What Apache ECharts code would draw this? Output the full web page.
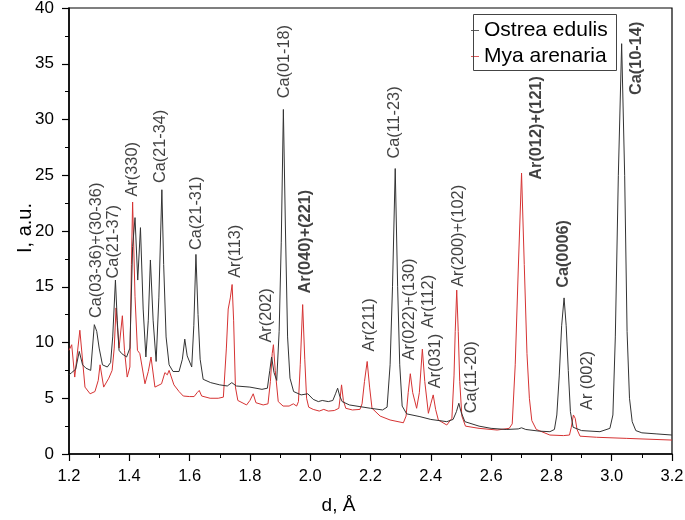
<!DOCTYPE html>
<html>
<head>
<meta charset="utf-8">
<script src="https://cdn.jsdelivr.net/npm/echarts@6/dist/echarts.min.js"></script>
<style>html,body{margin:0;padding:0;background:#fff}#c{width:685px;height:520px}</style>
</head>
<body>
<div id="c"></div>
<script>
// Ostrea edulis (black) : d (Å), intensity (a.u.)
const ostreaD = [1.200,1.209,1.222,1.234,1.245,1.256,1.272,1.284,1.292,1.300,1.311,1.327,1.338,1.345,1.354,1.360,1.366,1.375,1.391,1.402,1.411,1.419,1.428,1.437,1.446,1.455,1.463,1.470,1.479,1.489,1.498,1.508,1.514,1.522,1.532,1.545,1.565,1.576,1.584,1.592,1.607,1.614,1.621,1.628,1.635,1.645,1.670,1.700,1.725,1.740,1.755,1.800,1.840,1.858,1.866,1.872,1.880,1.889,1.897,1.904,1.911,1.918,1.925,1.933,1.945,1.970,1.992,2.010,2.027,2.040,2.060,2.075,2.084,2.091,2.098,2.106,2.130,2.165,2.200,2.240,2.255,2.265,2.273,2.282,2.290,2.297,2.305,2.320,2.364,2.400,2.453,2.474,2.485,2.493,2.500,2.513,2.560,2.600,2.650,2.690,2.701,2.715,2.760,2.795,2.810,2.818,2.826,2.834,2.842,2.849,2.856,2.863,2.872,2.900,2.961,2.994,3.004,3.012,3.022,3.033,3.043,3.051,3.059,3.068,3.080,3.100,3.150,3.200];
const ostreaI = [7.1,7.3,7.6,9.2,8.0,7.7,7.5,11.6,11.0,9.5,8.0,7.8,8.2,10.5,15.6,12.0,9.3,9.0,8.7,9.5,18.6,21.2,15.6,20.3,13.0,8.7,12.0,17.4,12.0,8.3,14.0,23.7,17.0,10.5,8.0,7.4,7.4,8.5,10.3,8.8,7.8,11.5,17.9,12.5,8.5,6.7,6.4,6.2,6.1,6.4,6.1,6.0,5.8,5.9,7.5,8.7,7.3,6.6,11.0,19.0,30.9,20.0,10.5,6.8,5.6,5.3,5.4,4.9,4.7,4.8,4.7,4.8,5.4,5.9,5.2,4.7,4.4,4.25,4.1,3.95,4.2,8.0,15.0,25.6,15.0,8.0,4.3,3.6,3.35,3.1,2.9,3.1,3.8,4.55,3.8,2.9,2.5,2.3,2.2,2.25,2.35,2.2,2.05,2.0,2.2,3.5,7.0,11.5,14.0,11.5,7.5,3.8,2.4,2.1,2.0,2.3,3.5,10.5,25.0,36.8,25.0,11.0,5.0,2.9,2.1,1.9,1.8,1.7];

// Mya arenaria (red)
const myaD = [1.200,1.209,1.219,1.236,1.247,1.253,1.270,1.286,1.297,1.303,1.315,1.332,1.343,1.350,1.356,1.366,1.377,1.384,1.393,1.402,1.407,1.411,1.419,1.427,1.435,1.452,1.463,1.472,1.485,1.507,1.518,1.526,1.532,1.548,1.565,1.579,1.600,1.615,1.625,1.632,1.640,1.668,1.695,1.712,1.722,1.728,1.735,1.741,1.746,1.752,1.760,1.789,1.800,1.811,1.820,1.844,1.860,1.868,1.874,1.878,1.884,1.894,1.910,1.930,1.944,1.955,1.961,1.967,1.975,1.982,1.988,1.995,2.010,2.030,2.045,2.060,2.080,2.095,2.100,2.104,2.110,2.118,2.140,2.165,2.172,2.180,2.189,2.197,2.205,2.232,2.265,2.309,2.318,2.325,2.332,2.340,2.353,2.362,2.372,2.380,2.392,2.400,2.408,2.416,2.425,2.453,2.470,2.477,2.481,2.486,2.491,2.496,2.503,2.515,2.560,2.620,2.660,2.670,2.680,2.690,2.701,2.710,2.719,2.727,2.735,2.750,2.795,2.840,2.860,2.866,2.873,2.879,2.885,2.895,2.950,3.050,3.200];
const myaI = [9.3,9.8,6.9,11.1,7.8,6.0,5.4,5.6,6.6,8.0,6.0,6.8,7.5,9.5,13.1,9.5,12.4,9.3,6.9,7.8,17.0,22.6,14.1,9.3,9.0,6.3,7.4,8.7,6.0,6.3,7.3,7.1,7.5,6.2,5.6,5.2,5.15,5.15,5.5,5.7,5.2,5.0,5.0,5.1,9.5,13.0,14.0,15.2,12.0,6.0,4.8,4.4,4.8,5.4,4.6,4.4,4.5,6.5,9.0,9.8,7.5,4.7,4.3,4.3,4.5,4.3,4.7,8.0,13.4,8.5,5.0,4.2,4.0,3.85,4.0,3.85,3.9,4.1,5.2,6.2,4.8,4.1,3.95,4.0,4.5,6.5,8.3,6.0,4.1,3.4,3.05,2.8,3.4,5.5,7.2,5.5,4.1,5.5,9.4,6.5,3.65,4.5,5.3,4.0,3.05,2.6,3.2,7.0,11.0,14.7,11.0,6.5,3.4,2.5,2.3,2.15,2.3,2.7,8.0,16.5,25.2,17.0,9.0,5.0,3.0,2.2,1.7,1.65,1.7,2.4,3.5,3.2,2.2,1.6,1.5,1.4,1.25];

// Peak annotations: text, anchor d, anchor I (text starts here and reads upward), bold
const labelTexts = ['Ca(03-36)+(30-36)','Ca(21-37)','Ar(330)','Ca(21-34)','Ca(21-31)','Ar(113)','Ar(202)','Ca(01-18)','Ar(040)+(221)','Ar(211)','Ca(11-23)','Ar(022)+(130)','Ar(112)','Ar(031)','Ar(200)+(102)','Ca(11-20)','Ar(012)+(121)','Ca(0006)','Ar (002)','Ca(10-14)'];
const labelD = [1.290,1.349,1.411,1.502,1.624,1.751,1.856,1.916,1.983,2.196,2.281,2.329,2.392,2.414,2.491,2.536,2.751,2.840,2.919,3.083];
const labelI = [12.2,15.75,23.1,24.3,18.3,15.8,10.0,31.9,14.4,9.2,26.5,8.4,11.3,5.9,15.0,3.65,24.6,14.9,3.95,32.2];
const labelBold = [0,0,0,0,0,0,0,0,1,0,0,0,0,0,0,0,1,1,0,1];

const seriesNames = ['Ostrea edulis','Mya arenaria'];
const xTicks = {min:1.2, max:3.2, step:0.2};
const yTicks = {min:0, max:40, step:5};
const yTitle = 'I, a.u.';

const FONT = '"Liberation Sans", Arial, sans-serif';
const pair = (xs, ys) => xs.map((x, i) => [x, ys[i]]);

const labelData = labelTexts.map((t, i) => ({
  value: [labelD[i], labelI[i]],
  label: {formatter: t, fontWeight: labelBold[i] ? 'bold' : 'normal'}
}));

const chart = echarts.init(document.getElementById('c'), null, {renderer: 'canvas'});
chart.setOption({
  animation: false,
  backgroundColor: '#fff',
  grid: {left: 69, right: 13, top: 8, bottom: 66, containLabel: false, outerBoundsMode: 'none',
         show: true, borderColor: '#000', borderWidth: 1.2, backgroundColor: 'transparent'},
  legend: {
    data: seriesNames,
    orient: 'vertical',
    left: 466, top: 15,
    itemWidth: 8, itemHeight: 10, itemGap: 5,
    icon: 'path://M0,0L10,0L10,1L0,1Z',
    textStyle: {fontFamily: FONT, fontSize: 21, color: '#000'}
  },
  graphic: [{
    type: 'rect', left: 471, top: 12, z: 100, silent: true,
    shape: {width: 143, height: 56},
    style: {fill: 'none', stroke: '#444', lineWidth: 1}
  }, {
    type: 'text', x: 25, y: 228, rotation: Math.PI / 2, silent: true,
    style: {text: yTitle, font: '20px "Liberation Sans", Arial, sans-serif', fill: '#000', align: 'center', verticalAlign: 'middle'}
  }],
  xAxis: {
    type: 'value', min: xTicks.min, max: xTicks.max, interval: xTicks.step,
    name: 'd, Å', nameLocation: 'middle', nameGap: 42,
    nameTextStyle: {fontFamily: FONT, fontSize: 19, color: '#000', padding: [0, 64, 0, 0]},
    axisLine: {lineStyle: {color: '#000', width: 1.5}},
    axisTick: {inside: false, length: 7, lineStyle: {color: '#000', width: 1.2}},
    minorTick: {show: true, splitNumber: 2, length: 4, lineStyle: {color: '#000', width: 1}},
    splitLine: {show: false},
    axisLabel: {fontFamily: FONT, fontSize: 16.5, color: '#000', margin: 14, formatter: v => v.toFixed(1)}
  },
  yAxis: {
    type: 'value', min: yTicks.min, max: yTicks.max, interval: yTicks.step,
    axisLine: {show: true, lineStyle: {color: '#000', width: 1.5}},
    axisTick: {show: true, inside: false, length: 7, lineStyle: {color: '#000', width: 1.2}},
    minorTick: {show: true, splitNumber: 2, length: 4, lineStyle: {color: '#000', width: 1}},
    splitLine: {show: false},
    axisLabel: {fontFamily: FONT, fontSize: 17, color: '#000', margin: 15}
  },
  series: [
    {name: seriesNames[0], type: 'line', data: pair(ostreaD, ostreaI), showSymbol: false, symbol: 'none',
     lineStyle: {color: '#333333', width: 1}, itemStyle: {color: '#333333'}, z: 3},
    {name: seriesNames[1], type: 'line', data: pair(myaD, myaI), showSymbol: false, symbol: 'none',
     lineStyle: {color: '#d63333', width: 1}, itemStyle: {color: '#d63333'}, z: 2},
    {name: 'labels', type: 'scatter', data: labelData, symbolSize: 0, silent: true, z: 5,
     label: {show: true, position: 'inside', rotate: 90, align: 'left', verticalAlign: 'middle',
             fontFamily: FONT, fontSize: 16.3, color: '#111'}}
  ]
});
</script>
</body>
</html>
